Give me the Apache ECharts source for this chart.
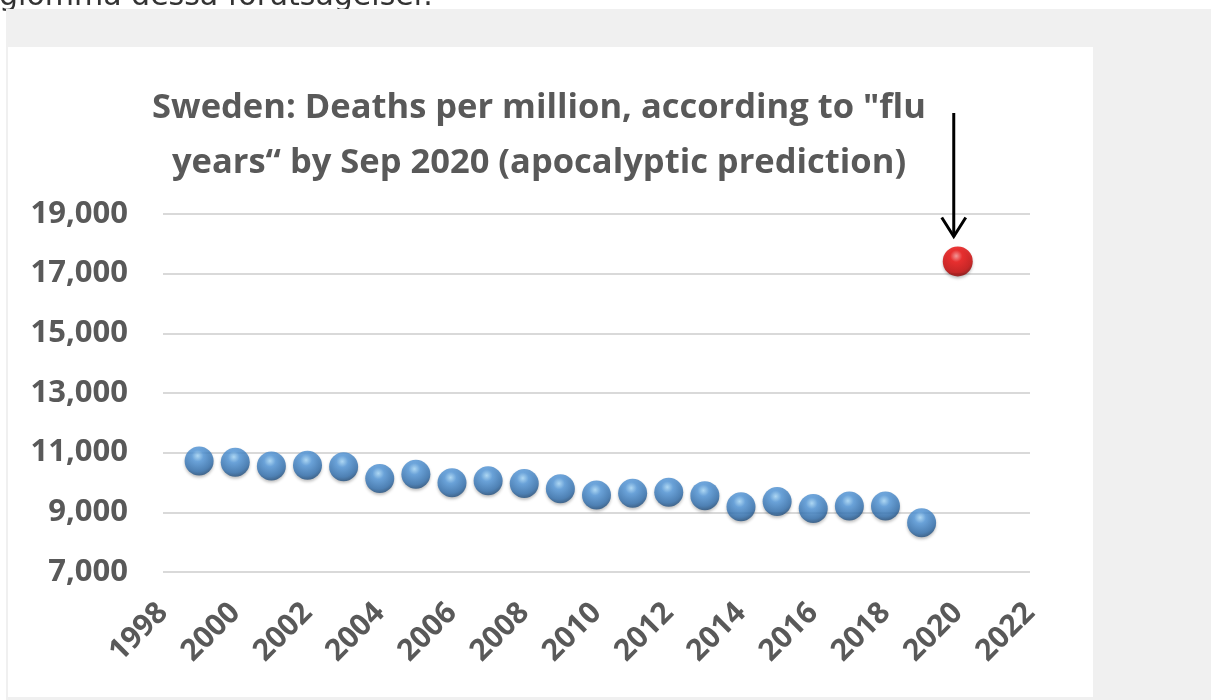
<!DOCTYPE html>
<html>
<head>
<meta charset="utf-8">
<script src="https://cdn.jsdelivr.net/npm/echarts@6/dist/echarts.min.js"></script>
<style>
  html, body { margin: 0; padding: 0; background: #ffffff; }
  #chart { width: 1212px; height: 700px; }
</style>
</head>
<body>
<div id="chart"></div>
<script>
// Deaths per million in Sweden, by flu year
const years = [1999, 2000, 2001, 2002, 2003, 2004, 2005, 2006, 2007, 2008, 2009,
               2010, 2011, 2012, 2013, 2014, 2015, 2016, 2017, 2018, 2019];
const deathsPerMillion = [10720, 10680, 10550, 10580, 10530, 10130, 10280, 9990, 10060, 9970, 9790,
                          9580, 9640, 9670, 9560, 9190, 9360, 9130, 9210, 9210, 8650];

// Predicted value for the 2020 flu year
const predictionYear = [2020];
const predictionValue = [17410];

const titleLines = ['Sweden: Deaths per million, according to "flu', 'years\u201C by Sep 2020 (apocalyptic prediction)'];
const captionText = 'glömma dessa förutsägelser.';

const textColor = '#595959';
const font = '"Open Sans", "Liberation Sans", sans-serif';

function sphere(light, mid, dark, edge) {
  return new echarts.graphic.RadialGradient(0.45, 0.32, 0.72, [
    { offset: 0, color: light },
    { offset: 0.28, color: mid },
    { offset: 0.75, color: dark },
    { offset: 1, color: edge }
  ]);
}

const chart = echarts.init(document.getElementById('chart'), null, { renderer: 'canvas' });

const option = {
  animation: false,
  backgroundColor: '#ffffff',
  title: {
    text: titleLines.join('\n'),
    left: 534,
    top: 76,
    textAlign: 'center',
    textStyle: {
      fontFamily: font,
      fontWeight: 'bold',
      fontSize: 34.5,
      lineHeight: 55,
      color: textColor
    }
  },
  grid: { left: 163, right: 182, top: 214, bottom: 128, containLabel: false },
  xAxis: {
    type: 'value',
    min: 1998,
    max: 2022,
    interval: 2,
    axisLine: { show: false },
    axisTick: { show: false },
    splitLine: { show: false },
    axisLabel: {
      rotate: 45,
      margin: 36,
      fontFamily: font,
      fontWeight: 'bold',
      fontSize: 30,
      color: textColor,
      formatter: v => String(v)
    }
  },
  yAxis: {
    type: 'value',
    min: 7000,
    max: 19000,
    interval: 2000,
    axisLine: { show: false },
    axisTick: { show: false },
    splitLine: { lineStyle: { color: '#d9d9d9', width: 2 } },
    axisLabel: {
      margin: 35,
      fontFamily: font,
      fontWeight: 'bold',
      fontSize: 31,
      color: textColor,
      formatter: v => v.toLocaleString('en-US')
    }
  },
  series: [
    {
      name: 'Deaths per million',
      type: 'scatter',
      symbol: 'circle',
      symbolSize: 29,
      data: years.map((y, i) => [y, deathsPerMillion[i]]),
      itemStyle: {
        color: sphere('#a8dcff', '#549ade', '#3170b0', '#1b446f'),
        shadowColor: 'rgba(0,0,0,0.3)',
        shadowBlur: 3,
        shadowOffsetY: 2
      },
      z: 3
    },
    {
      name: 'Prediction',
      type: 'scatter',
      symbol: 'circle',
      symbolSize: 30,
      data: predictionYear.map((y, i) => [y, predictionValue[i]]),
      itemStyle: {
        color: sphere('#ff8c8c', '#f00a0a', '#c80000', '#780000'),
        shadowColor: 'rgba(0,0,0,0.3)',
        shadowBlur: 3,
        shadowOffsetY: 2
      },
      z: 3
    }
  ]
};

chart.setOption(option);

// Page frame, caption and the arrow pointing at the predicted value
const [px, py] = chart.convertToPixel({ gridIndex: 0 }, [predictionYear[0], predictionValue[0]]);
const tipY = py - 25;

chart.setOption({
  graphic: [
    {
      type: 'text', z: -10, left: -1, top: -18,
      style: { text: captionText, fontFamily: '"DejaVu Sans", sans-serif', fontSize: 30, fill: '#333333' }
    },
    { type: 'rect', z: -9, shape: { x: 6, y: 9, width: 1205, height: 691 }, style: { fill: '#f0f0f0' } },
    { type: 'rect', z: -8, shape: { x: 8, y: 47, width: 1085, height: 650 }, style: { fill: '#ffffff' } },
    {
      type: 'line', z: 10,
      shape: { x1: px - 4, y1: 113, x2: px - 4, y2: tipY },
      style: { stroke: '#000000', lineWidth: 3 }
    },
    {
      type: 'polyline', z: 10,
      shape: { points: [[px - 16, tipY - 19], [px - 4, tipY], [px + 8, tipY - 19]] },
      style: { stroke: '#000000', lineWidth: 3, fill: null }
    }
  ]
});
</script>
</body>
</html>
